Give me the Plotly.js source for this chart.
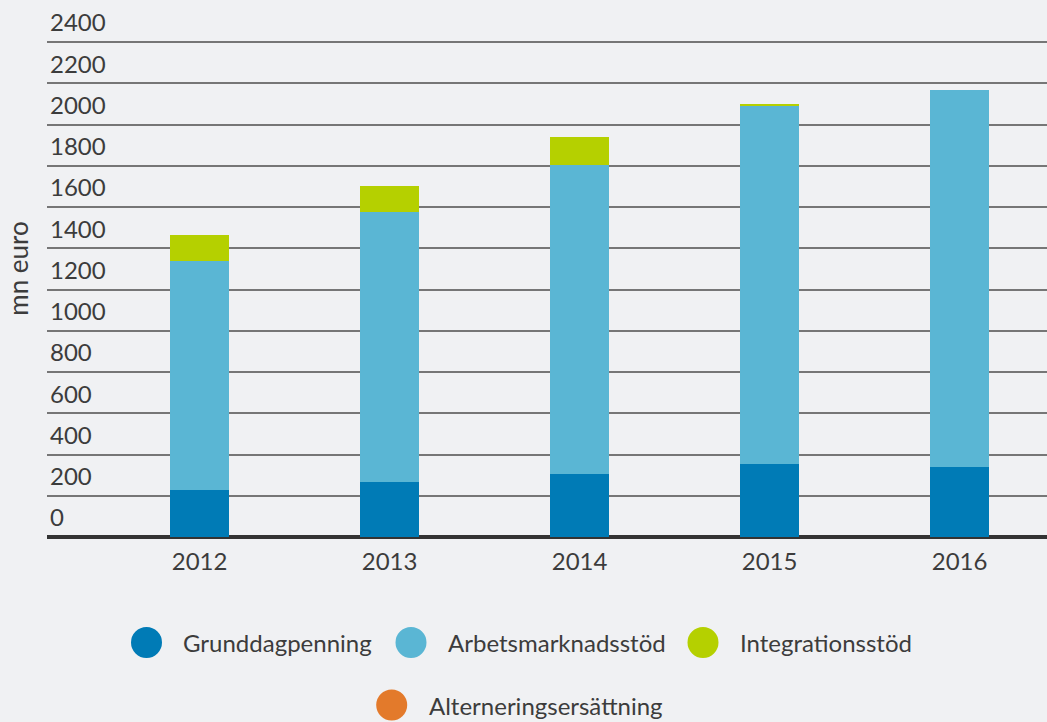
<!DOCTYPE html>
<html>
<head>
<meta charset="utf-8">
<script src="https://cdn.plot.ly/plotly-3.0.1.min.js"></script>
<style>html,body{margin:0;padding:0;background:#f0f1f3;}</style>
</head>
<body>
<div id="chart" style="width:1047px;height:722px;"></div>
<script>
// ---- data (mn euro) ----
const years = ['2012', '2013', '2014', '2015', '2016'];
const grunddagpenning = [228, 267, 305, 354, 339];
const arbetsmarknadsstod = [1110, 1309, 1499, 1736, 1828];
const integrationsstod = [126, 126, 135, 9, 0];
const alterneringsersattning = [0, 0, 0, 0, 0];
const seriesNames = ['Grunddagpenning', 'Arbetsmarknadsstöd', 'Integrationsstöd', 'Alterneringsersättning'];
const yTickValues = [0, 200, 400, 600, 800, 1000, 1200, 1400, 1600, 1800, 2000, 2200, 2400];
const yTitle = 'mn euro';

// ---- styles ----
const colors = ['#007bb6', '#5ab6d4', '#b5d000', '#e37a2b'];
const bg = '#f0f1f3';
const textColor = '#3c3c3c';
const fontFamily = 'Lato, "Open Sans", sans-serif';

const seriesValues = [grunddagpenning, arbetsmarknadsstod, integrationsstod, alterneringsersattning];
const traces = seriesValues.map((vals, i) => ({
  type: 'bar',
  x: years,
  y: vals,
  name: seriesNames[i],
  width: 0.31,
  marker: {color: colors[i], line: {width: 0}},
  hoverinfo: 'x+y+name'
}));

// custom legend (circles + labels), positioned in paper coords
const plotL = 47, plotW = 1000, plotH = 537;
const px2x = px => (px - plotL) / plotW;
const py2y = py => (plotH - py) / plotH;
const legendPos = [
  {cx: 146.5, tx: 181, cy: 642.5},
  {cx: 411, tx: 446, cy: 642.5},
  {cx: 703, tx: 737.5, cy: 642.5},
  {cx: 391.7, tx: 426.5, cy: 705}
];
const r = 15.5;
const shapes = legendPos.map((p, i) => ({
  type: 'circle', xref: 'paper', yref: 'paper',
  xsizemode: 'pixel', ysizemode: 'pixel',
  xanchor: px2x(p.cx), yanchor: py2y(p.cy),
  x0: -r, x1: r, y0: -r, y1: r,
  fillcolor: colors[i], line: {width: 0}
}));
const annotations = legendPos.map((p, i) => ({
  xref: 'paper', yref: 'paper',
  x: px2x(p.tx), y: py2y(p.cy),
  xanchor: 'left', yanchor: 'middle',
  text: seriesNames[i], showarrow: false,
  font: {family: fontFamily, size: 24, color: textColor}
}));

const layout = {
  width: 1047, height: 722,
  margin: {l: 47, r: 0, t: 0, b: 185, pad: 0},
  paper_bgcolor: bg, plot_bgcolor: bg,
  barmode: 'stack',
  showlegend: false,
  font: {family: fontFamily, color: textColor},
  xaxis: {
    type: 'category',
    range: [-0.803, 4.46],
    showgrid: false, zeroline: false, showline: false, ticks: '',
    tickfont: {family: fontFamily, size: 24, color: textColor},
    ticklabelstandoff: 8,
    fixedrange: true
  },
  yaxis: {
    range: [0, 2604],
    tickmode: 'array', tickvals: yTickValues,
    ticktext: yTickValues.map(String),
    ticks: '', showline: false,
    ticklabelposition: 'inside',
    ticklabelshift: -19,
    ticklabelstandoff: 0,
    tickfont: {family: fontFamily, size: 24, color: textColor},
    showgrid: true, gridcolor: '#767676', gridwidth: 2,
    zeroline: true, zerolinecolor: '#333333', zerolinewidth: 4,
    title: {text: yTitle, font: {family: fontFamily, size: 26, color: textColor}, standoff: 13},
    fixedrange: true
  },
  shapes: shapes,
  annotations: annotations
};

Plotly.newPlot('chart', traces, layout, {displayModeBar: false, staticPlot: true});
</script>
</body>
</html>
